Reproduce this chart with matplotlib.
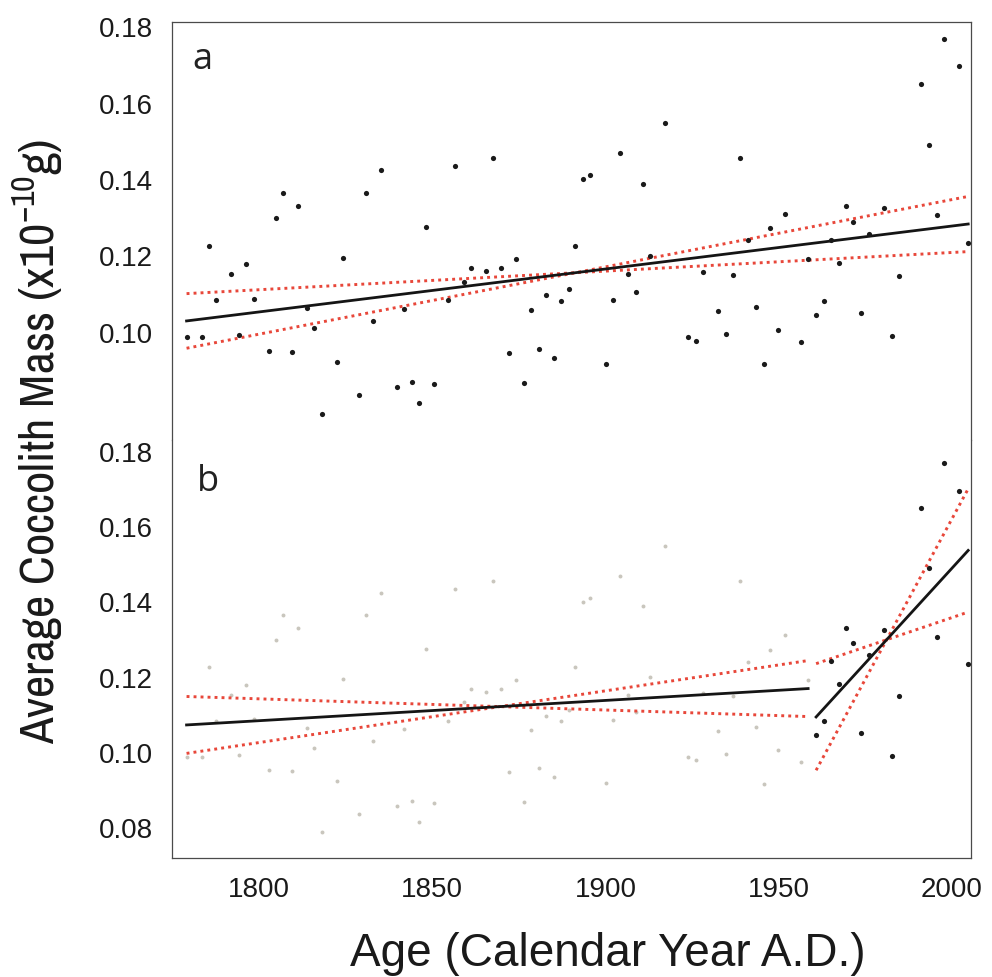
import numpy as np
import matplotlib
matplotlib.use('Agg')
import matplotlib.pyplot as plt
from matplotlib import font_manager

# data (year A.D., coccolith mass x1e-10 g)
years = [1779.1, 1783.5, 1785.5, 1787.7, 1792.0, 1794.3, 1796.3, 1798.6, 1803.0, 1804.9,
         1807.0, 1809.5, 1811.3, 1813.8, 1815.9, 1818.3, 1822.4, 1824.3, 1828.9, 1830.8,
         1833.0, 1835.1, 1839.7, 1841.8, 1844.1, 1846.3, 1848.2, 1850.6, 1854.7, 1856.7,
         1859.2, 1861.2, 1865.5, 1867.5, 1869.8, 1872.2, 1874.1, 1876.5, 1878.6, 1880.7,
         1882.8, 1885.1, 1887.2, 1889.5, 1891.2, 1893.4, 1895.6, 1900.1, 1902.3, 1904.3,
         1906.6, 1908.8, 1910.8, 1913.0, 1917.3, 1923.9, 1926.1, 1928.2, 1932.6, 1934.7,
         1936.8, 1938.9, 1941.2, 1943.4, 1945.7, 1947.6, 1949.9, 1951.9, 1956.5, 1958.5,
         1960.8, 1963.0, 1965.1, 1967.3, 1969.4, 1971.5, 1973.9, 1976.0, 1980.4, 1982.7,
         1984.8, 1991.1, 1993.5, 1995.7, 1997.7, 2002.1, 2004.7]
mass = [0.0990, 0.0990, 0.1227, 0.1085, 0.1154, 0.0995, 0.1181, 0.1089, 0.0954, 0.1301,
        0.1367, 0.0951, 0.1333, 0.1066, 0.1013, 0.0789, 0.0925, 0.1195, 0.0838, 0.1367,
        0.1030, 0.1426, 0.0859, 0.1063, 0.0872, 0.0817, 0.1276, 0.0866, 0.1085, 0.1436,
        0.1134, 0.1170, 0.1161, 0.1458, 0.1169, 0.0948, 0.1194, 0.0869, 0.1060, 0.0959,
        0.1098, 0.0935, 0.1084, 0.1114, 0.1228, 0.1402, 0.1412, 0.0919, 0.1086, 0.1470,
        0.1154, 0.1108, 0.1390, 0.1201, 0.1549, 0.0989, 0.0980, 0.1160, 0.1058, 0.0996,
        0.1152, 0.1457, 0.1242, 0.1069, 0.0918, 0.1274, 0.1007, 0.1312, 0.0976, 0.1194,
        0.1047, 0.1084, 0.1243, 0.1183, 0.1333, 0.1291, 0.1052, 0.1259, 0.1327, 0.0991,
        0.1150, 0.1650, 0.1491, 0.1309, 0.1770, 0.1697, 0.1235]
break_year = 1960
xticks = [1800, 1850, 1900, 1950, 2000]
yticks_a = [0.10, 0.12, 0.14, 0.16, 0.18]
yticks_b = [0.08, 0.10, 0.12, 0.14, 0.16, 0.18]

years = np.array(years)
mass = np.array(mass)

# fonts: a condensed face for the y label if one is around
Installed = sorted({f.name for f in font_manager.fontManager.ttflist})
Condensed = [n for n in Installed if 'Narrow' in n or 'Condensed' in n]
plt.rcParams['font.family'] = ['Liberation Sans', 'DejaVu Sans']
plt.rcParams['mathtext.fontset'] = 'custom'


def Fit(x, y, t):
    Slope, Intercept = np.polyfit(x, y, 1)
    Resid = y - (Intercept + Slope * x)
    S = np.sqrt(np.sum(Resid ** 2) / (len(x) - 2))
    SE = S / np.sqrt(np.sum((x - x.mean()) ** 2))
    return Slope, Intercept, SE * t


def DrawFit(Axes, x, y, t):
    Slope, Intercept, Half = Fit(x, y, t)
    Xs = np.array([x.min(), x.max()])
    for dS in [-Half, Half]:
        Axes.plot(Xs, y.mean() + (Slope + dS) * (Xs - x.mean()),
                  color='#e8473a', linewidth=2.1, linestyle=(0, (1, 1.4)), zorder=3)
    Axes.plot(Xs, Intercept + Slope * Xs, color='#151515', linewidth=2.0, zorder=4)


Figure = plt.figure(figsize=(9.92, 9.77), dpi=100)
AxA = Figure.add_axes([0.1734, 0.5496, 0.8054, 0.4278])
AxB = Figure.add_axes([0.1734, 0.1218, 0.8054, 0.4278])

# panel a
AxA.scatter(years, mass, s=14, color='#1a1a1a', linewidths=0, zorder=5)
DrawFit(AxA, years, mass, 1.99)
AxA.set_ylim(0.072, 0.1813)
AxA.set_yticks(yticks_a)
AxA.text(0.026, 0.8876, 'a', transform=AxA.transAxes, fontsize=26,
         family=['Open Sans', 'DejaVu Sans'], va='baseline', ha='left', color='#222222')

# panel b
Early = years < break_year
AxB.scatter(years[Early], mass[Early], s=8, color='#c9c6bd', linewidths=0, zorder=2)
AxB.scatter(years[~Early], mass[~Early], s=14, color='#1a1a1a', linewidths=0, zorder=5)
DrawFit(AxB, years[Early], mass[Early], 1.99)
DrawFit(AxB, years[~Early], mass[~Early], 2.13)
AxB.set_ylim(0.072, 0.1832)
AxB.set_yticks(yticks_b)
AxB.text(0.031, 0.878, 'b', transform=AxB.transAxes, fontsize=26,
         family=['Open Sans', 'DejaVu Sans'], va='baseline', ha='left', color='#222222')

for Axes in [AxA, AxB]:
    Axes.set_xlim(1774.9, 2005.5)
    Axes.set_yticklabels(['%.2f' % v for v in Axes.get_yticks()])
    Axes.tick_params(axis='both', length=0, labelsize=20, colors='#1a1a1a', pad=14)
    for Side in Axes.spines.values():
        Side.set_color('#4a4a4a')
        Side.set_linewidth(0.9)

AxA.spines['bottom'].set_visible(False)
AxA.set_xticks([])
AxB.spines['top'].set_visible(False)
AxB.set_xticks(xticks)
AxB.set_xticklabels([str(v) for v in xticks])

Figure.text(0.613, 0.024, 'Age (Calendar Year A.D.)', fontsize=33,
            ha='center', va='center', color='#1a1a1a')
if Condensed:
    Figure.text(0.038, 0.548, r'Average Coccolith Mass (x10$^{\mathregular{-10}}$g)',
                rotation=90, fontsize=35, family=[Condensed[0], 'DejaVu Sans'],
                ha='center', va='center', color='#1a1a1a')
else:
    Figure.text(0.038, 0.548, r'Average Coccolith Mass (x10$^{\mathregular{-10}}$g)',
                rotation=90, fontsize=30, ha='center', va='center', color='#1a1a1a')

Figure.savefig('out.png', dpi=100, facecolor='white')
